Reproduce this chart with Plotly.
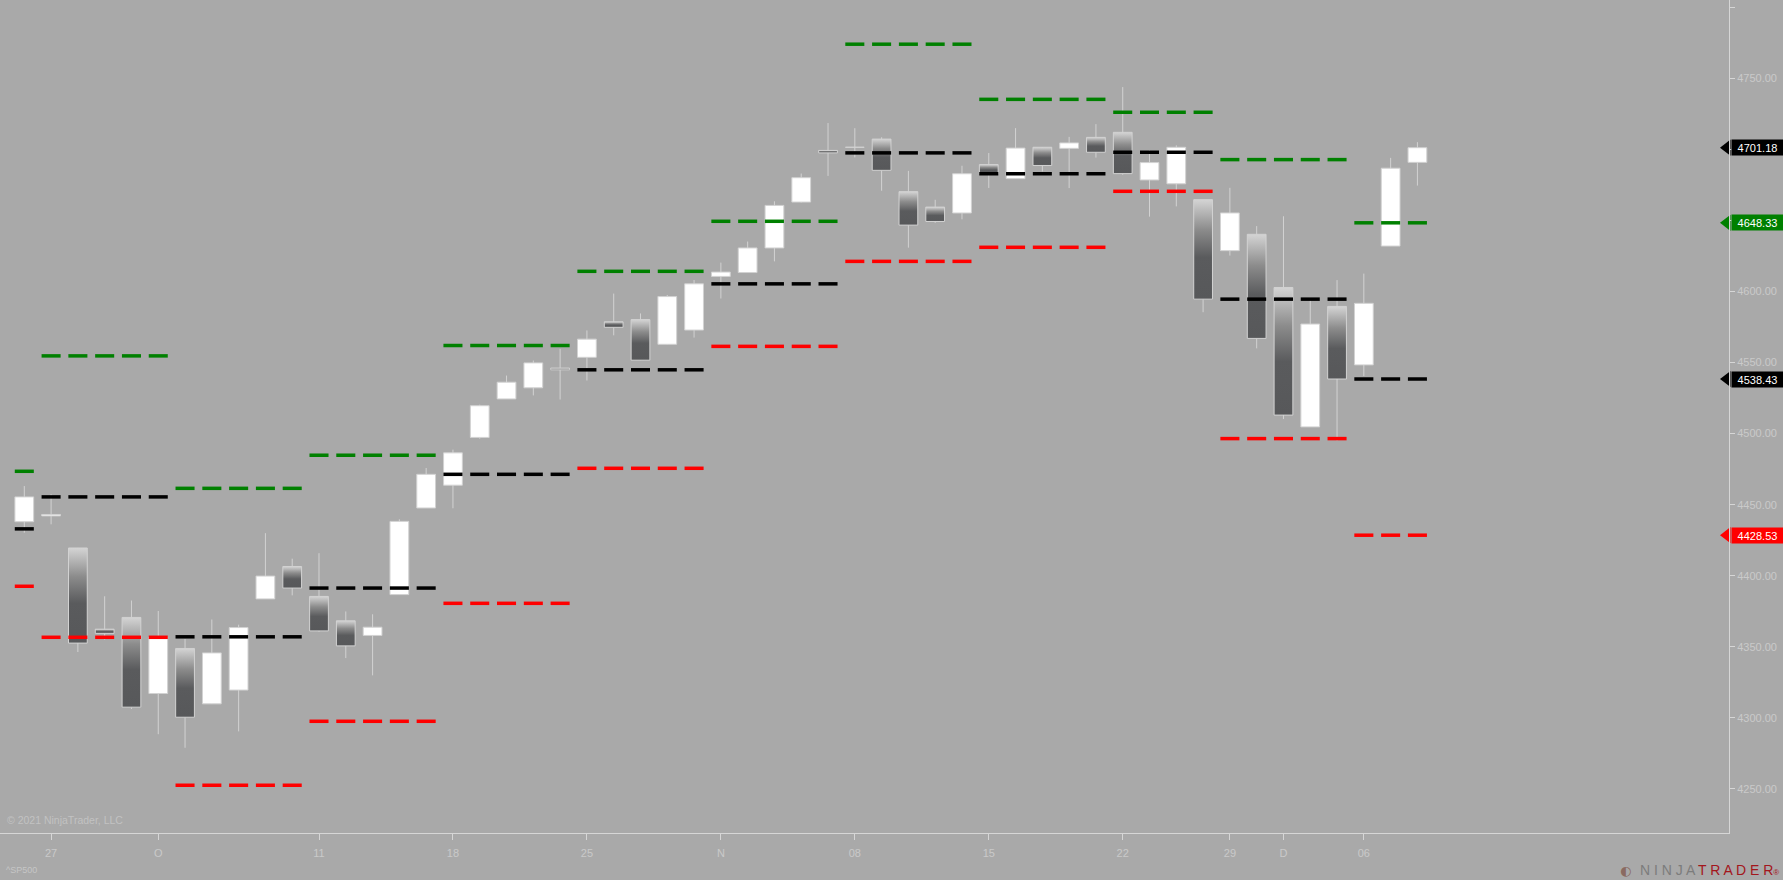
import plotly.graph_objects as go
import pandas as pd

# daily bars, ^SP500
dates = [
    "2021-09-24",
    "2021-09-27", "2021-09-28", "2021-09-29", "2021-09-30", "2021-10-01",
    "2021-10-04", "2021-10-05", "2021-10-06", "2021-10-07", "2021-10-08",
    "2021-10-11", "2021-10-12", "2021-10-13", "2021-10-14", "2021-10-15",
    "2021-10-18", "2021-10-19", "2021-10-20", "2021-10-21", "2021-10-22",
    "2021-10-25", "2021-10-26", "2021-10-27", "2021-10-28", "2021-10-29",
    "2021-11-01", "2021-11-02", "2021-11-03", "2021-11-04", "2021-11-05",
    "2021-11-08", "2021-11-09", "2021-11-10", "2021-11-11", "2021-11-12",
    "2021-11-15", "2021-11-16", "2021-11-17", "2021-11-18", "2021-11-19",
    "2021-11-22", "2021-11-23", "2021-11-24", "2021-11-26",
    "2021-11-29", "2021-11-30", "2021-12-01", "2021-12-02", "2021-12-03",
    "2021-12-06", "2021-12-07", "2021-12-08",
]
opens = [
    4438.04,
    4442.12, 4419.54, 4362.41, 4370.67, 4317.16,
    4348.84, 4309.87, 4319.57, 4383.73, 4406.51,
    4385.44, 4368.31, 4358.01, 4386.75, 4447.69,
    4463.72, 4497.34, 4524.42, 4532.24, 4546.12,
    4553.69, 4578.69, 4580.22, 4562.84, 4572.87,
    4610.62, 4613.34, 4630.65, 4662.93, 4699.26,
    4701.48, 4707.25, 4670.26, 4659.39, 4655.24,
    4689.30, 4679.42, 4701.50, 4700.72, 4708.44,
    4712.00, 4678.48, 4675.78, 4664.63,
    4628.75, 4640.25, 4602.82, 4504.73, 4589.49,
    4548.37, 4631.97, 4690.86,
]
highs = [
    4463.12,
    4457.30, 4419.54, 4385.57, 4382.55, 4375.19,
    4355.51, 4369.23, 4365.57, 4429.97, 4412.02,
    4415.88, 4374.89, 4372.87, 4439.73, 4475.82,
    4488.75, 4520.40, 4540.87, 4551.44, 4559.67,
    4572.62, 4598.53, 4584.57, 4597.55, 4608.08,
    4620.34, 4635.15, 4663.46, 4683.00, 4718.50,
    4714.92, 4708.53, 4684.85, 4664.55, 4688.47,
    4697.42, 4714.95, 4701.50, 4708.80, 4717.75,
    4743.83, 4699.39, 4702.87, 4664.63,
    4672.95, 4646.02, 4652.94, 4595.46, 4608.03,
    4612.60, 4694.04, 4705.06,
]
lows = [
    4430.27,
    4436.19, 4346.33, 4355.08, 4306.24, 4288.52,
    4278.94, 4309.87, 4290.49, 4383.73, 4386.22,
    4360.59, 4342.09, 4329.92, 4386.75, 4447.69,
    4447.47, 4496.41, 4524.40, 4526.89, 4524.00,
    4537.36, 4569.17, 4551.66, 4562.84, 4567.59,
    4595.06, 4613.34, 4621.19, 4662.59, 4681.32,
    4694.39, 4670.87, 4630.86, 4648.31, 4650.77,
    4672.86, 4679.42, 4684.41, 4672.78, 4694.22,
    4682.17, 4652.66, 4659.89, 4585.43,
    4625.26, 4560.00, 4510.27, 4504.73, 4495.12,
    4540.51, 4631.97, 4674.52,
]
closes = [
    4455.48,
    4443.11, 4352.63, 4359.46, 4307.54, 4357.04,
    4300.46, 4345.72, 4363.55, 4399.76, 4391.34,
    4361.19, 4350.65, 4363.80, 4438.26, 4471.37,
    4486.46, 4519.63, 4536.19, 4549.78, 4544.90,
    4566.48, 4574.79, 4551.68, 4596.42, 4605.38,
    4613.67, 4630.65, 4660.57, 4680.06, 4697.53,
    4701.70, 4685.25, 4646.71, 4649.27, 4682.85,
    4682.80, 4700.90, 4688.67, 4704.54, 4697.96,
    4682.94, 4690.70, 4701.46, 4594.62,
    4655.27, 4567.00, 4513.04, 4577.10, 4538.43,
    4591.67, 4686.75, 4701.18,
]

# weekly levels (one value per week, week of 2021-09-20 first)
week_mid = [4432.99, 4455.48, 4357.04, 4391.34, 4471.37, 4544.90,
            4605.38, 4697.53, 4682.85, 4697.96, 4594.62, 4538.43]
week_upper = [4473.5, 4554.7, 4461.5, 4484.8, 4562.0, 4614.2,
              4649.4, 4774.0, 4735.2, 4726.1, 4692.8, 4648.33]
week_lower = [4392.6, 4356.7, 4252.6, 4297.6, 4380.6, 4475.6,
              4561.4, 4621.2, 4631.1, 4670.5, 4496.5, 4428.53]

# x axis labels
tick_dates = ["2021-09-27", "2021-10-01", "2021-10-11", "2021-10-18", "2021-10-25",
              "2021-11-01", "2021-11-08", "2021-11-15", "2021-11-22", "2021-11-29",
              "2021-12-01", "2021-12-06"]
tick_labels = ["27", "O", "11", "18", "25", "N", "08", "15", "22", "29", "D", "06"]

price_ticks = [4250, 4300, 4350, 4400, 4450, 4500, 4550, 4600, 4650, 4700, 4750]

BG = "#a9a9a9"
OUTLINE = "#d2d2d2"
TEXT = "#cacaca"
FONT = "Liberation Sans, Arial, sans-serif"
HALF = 0.35

idx = list(range(len(dates)))
week_no = pd.factorize(pd.to_datetime(pd.Series(dates)).dt.to_period("W"))[0]

x_range = [-0.907, 63.63]
y_range = [4219.0, 4805.1]

fig = go.Figure()

# wicks
wx, wy = [], []
for i in idx:
    wx += [i, i, None]
    wy += [lows[i], highs[i], None]
fig.add_trace(go.Scatter(x=wx, y=wy, mode="lines",
                         line=dict(color=OUTLINE, width=1), hoverinfo="skip"))

# up bodies (white)
ux, uy = [], []
for i in idx:
    if closes[i] >= opens[i]:
        ux += [i - HALF, i + HALF, i + HALF, i - HALF, i - HALF, None]
        uy += [opens[i], opens[i], closes[i], closes[i], opens[i], None]
fig.add_trace(go.Scatter(x=ux, y=uy, mode="lines", fill="toself",
                         fillcolor="#ffffff", line=dict(color=OUTLINE, width=1),
                         hoverinfo="skip"))

# down bodies with gradient
for i in idx:
    if closes[i] < opens[i]:
        fig.add_trace(go.Scatter(
            x=[i - HALF, i + HALF, i + HALF, i - HALF, i - HALF],
            y=[closes[i], closes[i], opens[i], opens[i], closes[i]],
            mode="lines", fill="toself",
            fillgradient=dict(type="vertical",
                              colorscale=[[0, "#57585a"], [0.42, "#5a5b5d"],
                                          [0.7, "#8c8c8c"], [1, "#d4d4d4"]]),
            line=dict(color=OUTLINE, width=1),
            hoverinfo="skip"))

# weekly level dashes, one per bar
for vals, col in [(week_upper, "#008000"), (week_mid, "#000000"), (week_lower, "#ff0000")]:
    fig.add_trace(go.Scatter(
        x=idx, y=[vals[w] for w in week_no], mode="markers",
        marker=dict(symbol="line-ew", size=13.6,
                    line=dict(color=col, width=3.5)),
        hoverinfo="skip"))

# price markers on the right axis
markers = [(closes[-1], "#000000"), (week_upper[-1], "#008000"),
           (week_mid[-1], "#000000"), (week_lower[-1], "#ff0000")]
fig.add_trace(go.Scatter(
    x=[x_range[1] - 0.075] * len(markers), y=[m[0] for m in markers],
    mode="markers", cliponaxis=False,
    marker=dict(symbol="triangle-left", size=14, color=[m[1] for m in markers]),
    hoverinfo="skip"))
for val, col in markers:
    fig.add_annotation(x=1, xref="paper", y=val, yref="y", xanchor="left",
                       xshift=2, text=f"{val:.2f}", showarrow=False,
                       font=dict(family=FONT, size=11, color="#ffffff"),
                       bgcolor=col, width=49, height=13, borderpad=1)

fig.add_annotation(x=0, xref="paper", y=0, yref="paper", xanchor="left",
                   yanchor="middle", xshift=5, yshift=13,
                   text="© 2021 NinjaTrader, LLC", showarrow=False,
                   font=dict(family=FONT, size=10.5, color="#c2c2c2"))
fig.add_annotation(x=0, xref="paper", y=0, yref="paper", xanchor="left",
                   yanchor="middle", xshift=4, yshift=-37,
                   text="^SP500", showarrow=False,
                   font=dict(family=FONT, size=9, color="#c6c6c6"))
fig.add_annotation(x=1, xref="paper", y=0, yref="paper", xanchor="right",
                   yanchor="middle", xshift=52, yshift=-37,
                   text='N I N J A <span style="color:#a3161c">T R A D E R</span>'
                        '<span style="color:#a3161c;font-size:8px">®</span>',
                   showarrow=False,
                   font=dict(family=FONT, size=14, color="#7c7c7c"))
# small round logo mark before the brand name
fig.add_annotation(x=1, xref="paper", y=0, yref="paper", xanchor="right",
                   yanchor="middle", xshift=-96, yshift=-37,
                   text="◐", showarrow=False,
                   font=dict(family="DejaVu Sans", size=13, color="#8a6a60"))

fig.update_layout(
    width=1783, height=880,
    margin=dict(l=0, r=54, t=0, b=47),
    paper_bgcolor=BG, plot_bgcolor=BG,
    showlegend=False,
    xaxis=dict(
        range=x_range, showgrid=False, zeroline=False,
        showline=True, linecolor="#d6d6d6", linewidth=1,
        ticks="outside", ticklen=6, tickcolor="#d6d6d6",
        tickvals=[dates.index(d) for d in tick_dates], ticktext=tick_labels,
        tickfont=dict(family="Liberation Sans Narrow, " + FONT, size=11, color=TEXT),
        ticklabelstandoff=4,
    ),
    yaxis=dict(
        range=y_range, side="right", showgrid=False, zeroline=False,
        showline=True, linecolor="#d6d6d6", linewidth=1,
        ticks="outside", ticklen=5, tickcolor="#d6d6d6",
        tickvals=price_ticks, tickformat=".2f",
        tickfont=dict(family=FONT, size=11, color=TEXT),
        minor=dict(dtick=50, ticks="outside", ticklen=5, tickcolor="#d6d6d6"),
    ),
)

# page margin off so the chart fills the window
fig.write_html("out.html", config={"displayModeBar": False},
               post_script="document.body.style.margin='0';"
                           "document.body.style.background='#a9a9a9';")
